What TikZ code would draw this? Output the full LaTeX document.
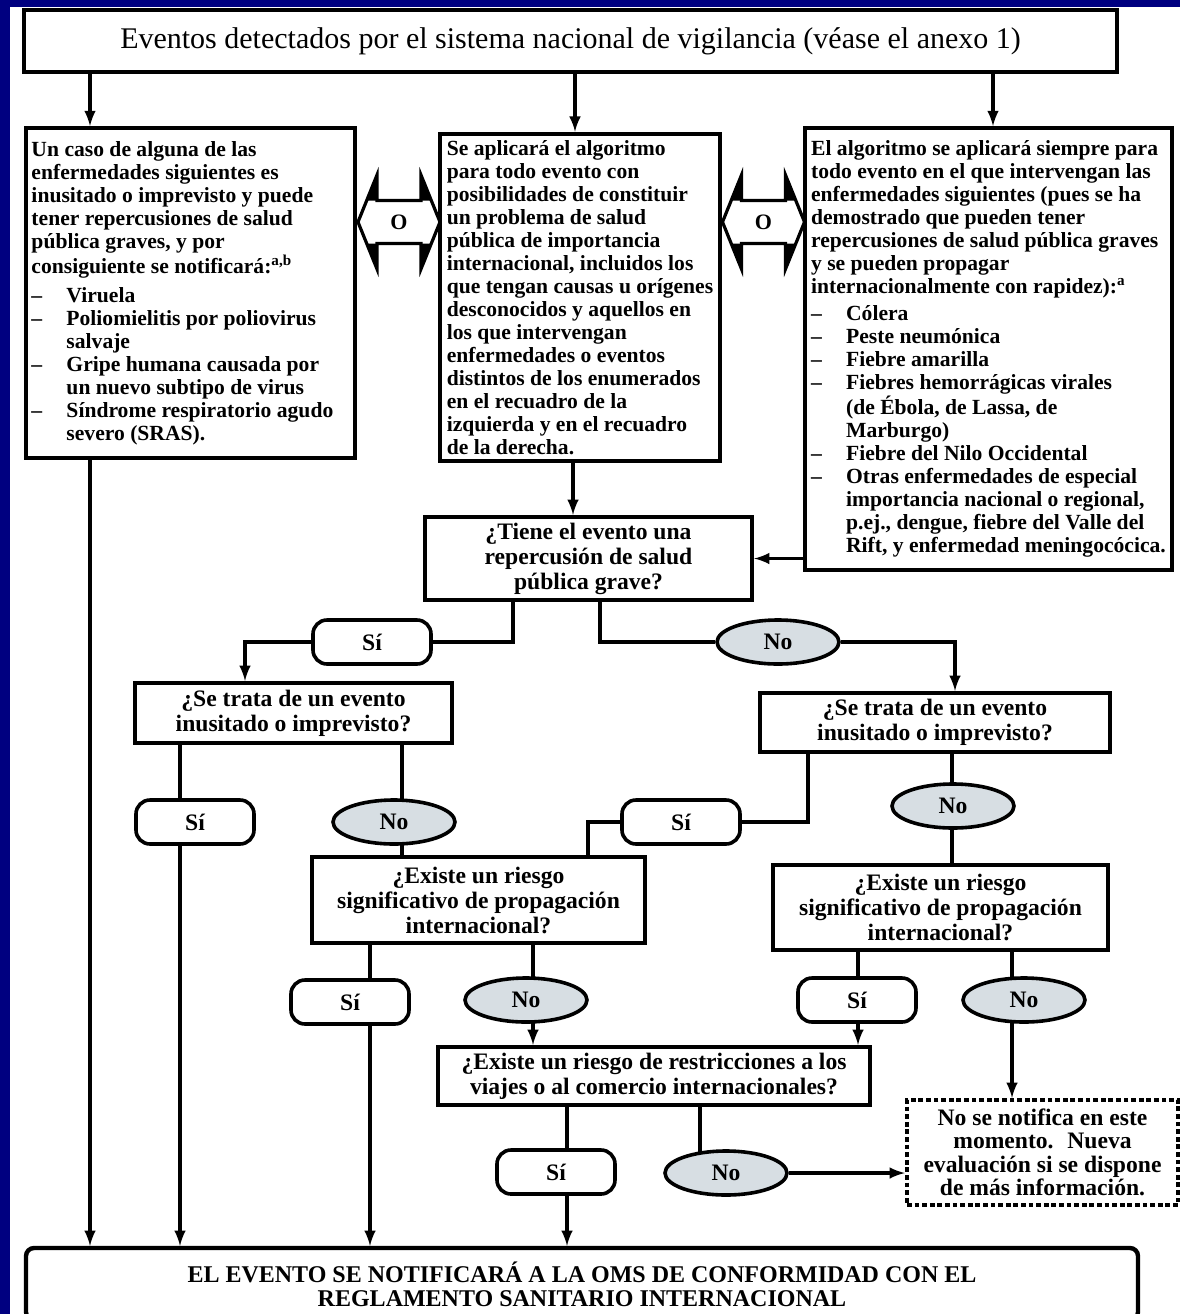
\documentclass[tikz,border=0pt]{standalone}
\usepackage{fontspec}
\setmainfont{Liberation Serif}
\usetikzlibrary{shapes.geometric,backgrounds}

\definecolor{slideblue}{RGB}{0,0,128}
\definecolor{nofill}{RGB}{215,222,227}

\newcommand{\dashitem}[1]{\makebox[17.5pt][l]{--}#1}
\newcommand{\dashmore}[1]{\hspace*{17.5pt}#1}

\begin{document}
\begin{tikzpicture}[x=0.5pt,y=-0.5pt,
  headbox/.style={draw,line width=2pt,fill=white,font=\fontsize{15}{17}\selectfont},
  txtbox/.style={draw,line width=2pt,fill=white,inner xsep=2pt,align=left,
    font=\bfseries\fontsize{10.8}{11.5}\selectfont},
  qbox/.style={draw,line width=2.2pt,fill=white,align=center,inner sep=1pt,
    font=\bfseries\fontsize{11.8}{12.5}\selectfont},
  yesbox/.style={draw,line width=1.8pt,fill=white,rounded corners=7pt,
    minimum width=59pt,minimum height=22pt,font=\bfseries\fontsize{11.8}{12}\selectfont},
  nobox/.style={ellipse,draw,line width=1.8pt,fill=nofill,inner sep=0pt,
    minimum width=61pt,minimum height=22pt,font=\bfseries\fontsize{11.8}{12}\selectfont},
  orlabel/.style={font=\bfseries\fontsize{11}{12}\selectfont},
  orline/.style={draw,line width=1.6pt,fill=white,line join=miter},
  waitbox/.style={draw,line width=2.2pt,dash pattern=on 2.4pt off 1.4pt,fill=white,
    align=center,font=\bfseries\fontsize{11.8}{11.7}\selectfont},
  endbox/.style={draw,line width=2.2pt,fill=white,rounded corners=4pt,align=center,
    font=\bfseries\fontsize{12}{12}\selectfont},
  conn/.style={line width=1.6pt},
  arr/.style={conn,-latex}]
\useasboundingbox (0,0) rectangle (1180,1314);

% first row
\node[headbox,minimum width=546.5pt,minimum height=31pt] (top) at (570.5,41)
  {Eventos detectados por el sistema nacional de vigilancia (véase el anexo 1)};

\node[txtbox,minimum width=164.5pt,minimum height=165pt] (boxL) at (190.5,293)
  {\makebox[159pt][l]{Un caso de alguna de las}\\
   enfermedades siguientes es\\
   inusitado o imprevisto y puede\\
   tener repercusiones de salud\\
   pública graves, y por\\
   consiguiente se notificará:\textsuperscript{a,b}\\[3pt]
   \dashitem{Viruela}\\
   \dashitem{Poliomielitis por poliovirus}\\
   \dashmore{salvaje}\\
   \dashitem{Gripe humana causada por}\\
   \dashmore{un nuevo subtipo de virus}\\
   \dashitem{Síndrome respiratorio agudo}\\
   \dashmore{severo (SRAS).}};

\node[txtbox,minimum width=140pt,minimum height=162.5pt] (boxC) at (580,297.5)
  {Se aplicará el algoritmo\\
   para todo evento con\\
   posibilidades de constituir\\
   un problema de salud\\
   pública de importancia\\
   internacional, incluidos los\\
   que tengan causas u orígenes\\
   desconocidos y aquellos en\\
   los que intervengan\\
   enfermedades o eventos\\
   distintos de los enumerados\\
   en el recuadro de la\\
   izquierda y en el recuadro\\
   de la derecha.};

\node[txtbox,minimum width=183.5pt,minimum height=221pt] (boxR) at (988.5,349)
  {El algoritmo se aplicará siempre para\\
   todo evento en el que intervengan las\\
   enfermedades siguientes (pues se ha\\
   demostrado que pueden tener\\
   repercusiones de salud pública graves\\
   y se pueden propagar\\
   internacionalmente con rapidez):\textsuperscript{a}\\[2pt]
   \dashitem{Cólera}\\
   \dashitem{Peste neumónica}\\
   \dashitem{Fiebre amarilla}\\
   \dashitem{Fiebres hemorrágicas virales}\\
   \dashmore{(de Ébola, de Lassa, de}\\
   \dashmore{Marburgo)}\\
   \dashitem{Fiebre del Nilo Occidental}\\
   \dashitem{Otras enfermedades de especial}\\
   \dashmore{importancia nacional o regional,}\\
   \dashmore{p.ej., dengue, fiebre del Valle del}\\
   \dashmore{Rift, y enfermedad meningocócica.}};

\node[orlabel] (orL) at (399,222) {O};
\node[orlabel] (orR) at (763.5,222) {O};

% questions
\node[qbox,minimum width=163.5pt,minimum height=41.5pt] (qGrave) at (588.5,558.5)
  {¿Tiene el evento una\\repercusión de salud\\pública grave?};
\node[qbox,minimum width=158.5pt,minimum height=30pt] (qInusL) at (293.5,713)
  {¿Se trata de un evento\\inusitado o imprevisto?};
\node[qbox,minimum width=175pt,minimum height=29.5pt] (qInusR) at (935,722.5)
  {¿Se trata de un evento\\inusitado o imprevisto?};
\node[qbox,minimum width=166.5pt,minimum height=43pt] (qPropL) at (478.5,900)
  {¿Existe un riesgo\\significativo de propagación\\internacional?};
\node[qbox,minimum width=167.5pt,minimum height=42.5pt] (qPropR) at (940.5,907.5)
  {¿Existe un riesgo\\significativo de propagación\\internacional?};
\node[qbox,minimum width=216pt,minimum height=29pt] (qRestr) at (654,1076)
  {¿Existe un riesgo de restricciones a los\\viajes o al comercio internacionales?};
\node[waitbox,minimum width=135.5pt,minimum height=52.5pt] (noNotif) at (1042.5,1152.5)
  {No se notifica en este\\momento.~ Nueva\\evaluación si se dispone\\de más información.};
\node[endbox,minimum width=556pt,minimum height=36pt] (notify) at (582,1284)
  {EL EVENTO SE NOTIFICARÁ A LA OMS DE CONFORMIDAD CON EL\\REGLAMENTO SANITARIO INTERNACIONAL};

% answers
\node[yesbox] (siA) at (372,642) {Sí};
\node[nobox] (noA) at (778,642) {No};
\node[yesbox] (siB) at (195,822) {Sí};
\node[nobox] (noB) at (394,822) {No};
\node[yesbox] (siC) at (681,822) {Sí};
\node[nobox] (noC) at (953,806) {No};
\node[yesbox] (siD) at (350,1002) {Sí};
\node[nobox] (noD) at (526,1000) {No};
\node[yesbox] (siE) at (857,1000) {Sí};
\node[nobox] (noE) at (1024,1000) {No};
\node[yesbox] (siF) at (556,1172) {Sí};
\node[nobox] (noF) at (726,1173) {No};

\begin{pgfonlayer}{background}
\fill[slideblue] (0,0) rectangle (1180,1314);
\fill[white] (10,7) rectangle (1180,1314);

% the two "O" double arrows
\foreach \n in {orL,orR} {
  \path[orline] ([shift={(-41,0)}]\n.center) -- ([shift={(-22,-47)}]\n.center)
    -- ([shift={(-22,-21.5)}]\n.center) -- ([shift={(22,-21.5)}]\n.center)
    -- ([shift={(22,-47)}]\n.center) -- ([shift={(41,0)}]\n.center)
    -- ([shift={(22,47)}]\n.center) -- ([shift={(22,21.5)}]\n.center)
    -- ([shift={(-22,21.5)}]\n.center) -- ([shift={(-22,47)}]\n.center) -- cycle;
  \foreach \sx in {-1,1}
    \foreach \sy in {-1,1}
      \fill ([shift={(\sx*22,\sy*47)}]\n.center) -- ([shift={(\sx*22,\sy*21.5)}]\n.center)
        -- ([shift={(\sx*32,\sy*21.5)}]\n.center) -- cycle;
}

% where the lines leave the boxes
\coordinate (tL) at ([xshift=-240.25pt]top.south);
\coordinate (tC) at ([xshift=2.25pt]top.south);
\coordinate (tR) at ([xshift=211.25pt]top.south);
\coordinate (lOut) at ([xshift=-50.25pt]boxL.south);
\coordinate (cOut) at ([xshift=-3.5pt]boxC.south);
\coordinate (gYes) at ([xshift=-37.75pt]qGrave.south);
\coordinate (gNo) at ([xshift=5.75pt]qGrave.south);
\coordinate (iLin) at ([xshift=-24.25pt]qInusL.north);
\coordinate (iRin) at ([xshift=10pt]qInusR.north);
\coordinate (iLyes) at ([xshift=-56.75pt]qInusL.south);
\coordinate (iLno) at ([xshift=54.25pt]qInusL.south);
\coordinate (iRyes) at ([xshift=-63.5pt]qInusR.south);
\coordinate (iRno) at ([xshift=8.5pt]qInusR.south);
\coordinate (pLin) at ([xshift=54.75pt]qPropL.north);
\coordinate (pLyes) at ([xshift=-54.25pt]qPropL.south);
\coordinate (pLno) at ([xshift=27.25pt]qPropL.south);
\coordinate (pRyes) at ([xshift=-41.25pt]qPropR.south);
\coordinate (pRno) at ([xshift=35.75pt]qPropR.south);
\coordinate (rYes) at ([xshift=-43.5pt]qRestr.south);
\coordinate (rNo) at ([xshift=23pt]qRestr.south);

\draw[arr] (tL) -- (tL |- boxL.north);
\draw[arr] (tC) -- (tC |- boxC.north);
\draw[arr] (tR) -- (tR |- boxR.north);
\draw[arr] (lOut) -- (lOut |- notify.north);
\draw[arr] (cOut) -- (cOut |- qGrave.north);
\draw[arr] (qGrave.east -| boxR.west) -- (qGrave.east);

\draw[conn] (gYes) |- (siA.east);
\draw[arr] (siA.west) -| (iLin);
\draw[conn] (gNo) |- (noA.west);
\draw[arr] (noA.east) -| (iRin);

\draw[arr] (iLyes) -- (iLyes |- notify.north);
\draw[conn] (iLno) -- (iLno |- qPropL.north);
\draw[conn] (iRyes) |- (siC.east);
\draw[conn] (siC.west) -| (pLin);
\draw[conn] (iRno) -- (iRno |- qPropR.north);

\draw[arr] (pLyes) -- (pLyes |- notify.north);
\draw[arr] (pLno) -- (pLno |- qRestr.north);
\draw[arr] (pRyes) -- (pRyes |- qRestr.north);
\draw[arr] (pRno) -- (pRno |- noNotif.north);

\draw[arr] (rYes) -- (rYes |- notify.north);
\draw[conn] (rNo) -- (rNo |- noF.center);
\draw[arr] (noF.east) -- (noF.east -| noNotif.west);
\end{pgfonlayer}
\end{tikzpicture}
\end{document}
